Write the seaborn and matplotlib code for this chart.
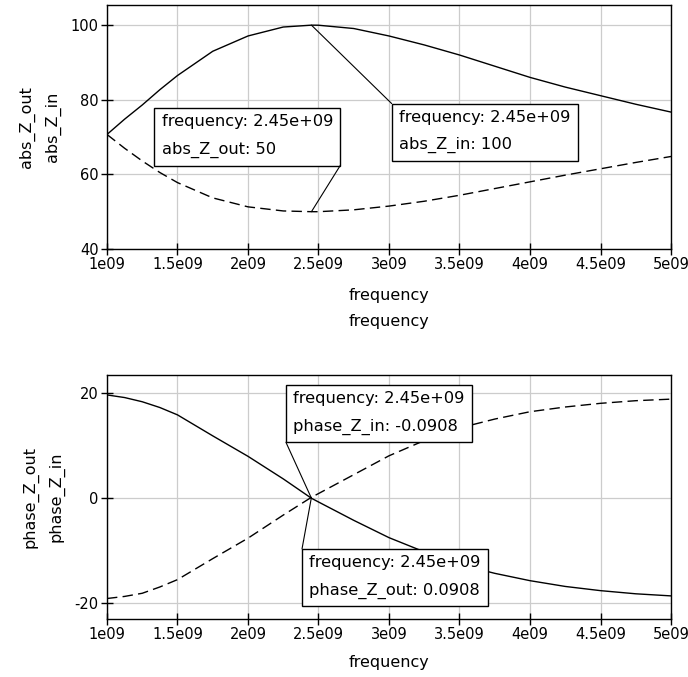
import numpy as np
import matplotlib
matplotlib.use('Agg')
import matplotlib.pyplot as plt
import seaborn as sns

# frequency sweep (Hz)
frequency = np.array([1.0, 1.125, 1.25, 1.375, 1.5, 1.75, 2.0, 2.25, 2.45, 2.5, 2.75, 3.0,
                      3.25, 3.5, 3.75, 4.0, 4.25, 4.5, 4.75, 5.0]) * 1e9

# magnitudes
abs_Z_in = [70.7, 74.8, 78.6, 82.7, 86.5, 93.0, 97.1, 99.5, 100.0, 99.98, 99.1, 97.1,
            94.7, 92.0, 89.0, 86.0, 83.4, 81.1, 78.8, 76.7]
abs_Z_out = [70.7, 67.0, 63.6, 60.5, 57.8, 53.7, 51.3, 50.2, 50.0, 50.0, 50.5, 51.5,
             52.8, 54.4, 56.2, 58.0, 59.8, 61.5, 63.2, 64.8]

# phases
phase_Z_in = [19.6, 19.1, 18.3, 17.2, 15.8, 11.8, 7.9, 3.6, -0.0908, -0.8, -4.3, -7.6,
              -10.3, -12.7, -14.4, -15.8, -16.9, -17.7, -18.3, -18.7]
phase_Z_out = [-19.2, -18.8, -18.2, -17.0, -15.6, -11.6, -7.7, -3.3, 0.0908, 0.8, 4.4, 8.0,
               10.9, 13.3, 15.0, 16.4, 17.3, 18.0, 18.5, 18.8]

xticks = [1e9, 1.5e9, 2e9, 2.5e9, 3e9, 3.5e9, 4e9, 4.5e9, 5e9]
xticklabels = ['1e09', '1.5e09', '2e09', '2.5e09', '3e09', '3.5e09', '4e09', '4.5e09', '5e09']

marker_f = 2.45e9

sns.set_style('whitegrid', {'grid.color': '#cccccc', 'axes.edgecolor': 'black',
                            'text.color': 'black', 'axes.labelcolor': 'black',
                            'xtick.color': 'black', 'ytick.color': 'black'})
plt.rcParams['font.family'] = ['DejaVu Sans']
plt.rcParams['axes.unicode_minus'] = False
FS = 11.7
TFS = 10.5
LFS = 11.5

fig = plt.figure(figsize=(6.88, 6.77), dpi=100)
ax_top = fig.add_axes([0.1555, 0.6322, 0.8198, 0.3604])
ax_bot = fig.add_axes([0.1555, 0.0857, 0.8198, 0.3604])

dash = (0, (7.5, 3.8))

sns.lineplot(x=frequency, y=abs_Z_in, ax=ax_top, color='black', lw=1.0)
sns.lineplot(x=frequency, y=abs_Z_out, ax=ax_top, color='black', lw=1.0, linestyle=dash)
sns.lineplot(x=frequency, y=phase_Z_in, ax=ax_bot, color='black', lw=1.0)
sns.lineplot(x=frequency, y=phase_Z_out, ax=ax_bot, color='black', lw=1.0, linestyle=dash)

for ax in (ax_top, ax_bot):
    ax.set_xlim(1e9, 5e9)
    ax.set_xticks(xticks)
    ax.set_xticklabels(xticklabels)
    ax.tick_params(direction='inout', length=8, width=1, color='black',
                   labelcolor='black', labelsize=TFS, pad=2, bottom=True, left=True)
    ax.grid(True, color='#cccccc', lw=0.9)
    for s in ax.spines.values():
        s.set_color('black')
        s.set_linewidth(1.0)

ax_top.set_ylim(40, 105.4)
ax_top.set_yticks([40, 60, 80, 100])
ax_bot.set_ylim(-23.1, 23.4)
ax_bot.set_yticks([-20, 0, 20])

ax_top.set_xlabel('frequency\nfrequency', fontsize=LFS, labelpad=11, linespacing=1.95)
ax_top.set_ylabel('abs_Z_out\nabs_Z_in', fontsize=LFS, labelpad=7, linespacing=1.85)
ax_bot.set_xlabel('frequency', fontsize=LFS, labelpad=9)
ax_bot.set_ylabel('phase_Z_out\nphase_Z_in', fontsize=LFS, labelpad=7, linespacing=1.85)

box = dict(boxstyle='square,pad=0.45', fc='white', ec='black', lw=1.0)

# marker boxes: (axes, text, marker value, text x, text y, box corner for leader)
markers = [
    (ax_top, 'frequency: 2.45e+09\nabs_Z_out: 50', 50, 1.387e9, 76.08, (1, 0)),
    (ax_top, 'frequency: 2.45e+09\nabs_Z_in: 100', 100, 3.071e9, 77.34, (0, 1)),
    (ax_bot, 'frequency: 2.45e+09\nphase_Z_in: -0.0908', -0.0908, 2.321e9, 20.32, (0, 0)),
    (ax_bot, 'frequency: 2.45e+09\nphase_Z_out: 0.0908', 0.0908, 2.435e9, -10.91, (0, 1)),
]

labels = []
for ax, text, val, xt, yt, corner in markers:
    t = ax.text(xt, yt, text, ha='left', va='top', fontsize=FS, linespacing=2.05,
                bbox=box, color='black', zorder=5)
    labels.append(t)

# leader lines run from the box corner to the marked point
fig.canvas.draw()
for t, (ax, text, val, xt, yt, corner) in zip(labels, markers):
    bb = t.get_bbox_patch().get_window_extent()
    cx = bb.x0 + corner[0] * bb.width
    cy = bb.y0 + corner[1] * bb.height
    start = ax.transData.inverted().transform((cx, cy))
    ax.annotate('', xy=(marker_f, val), xytext=tuple(start), textcoords='data',
                arrowprops=dict(arrowstyle='-', color='black', lw=0.8,
                                shrinkA=0, shrinkB=0), zorder=6)

fig.savefig('out.png', dpi=100)
